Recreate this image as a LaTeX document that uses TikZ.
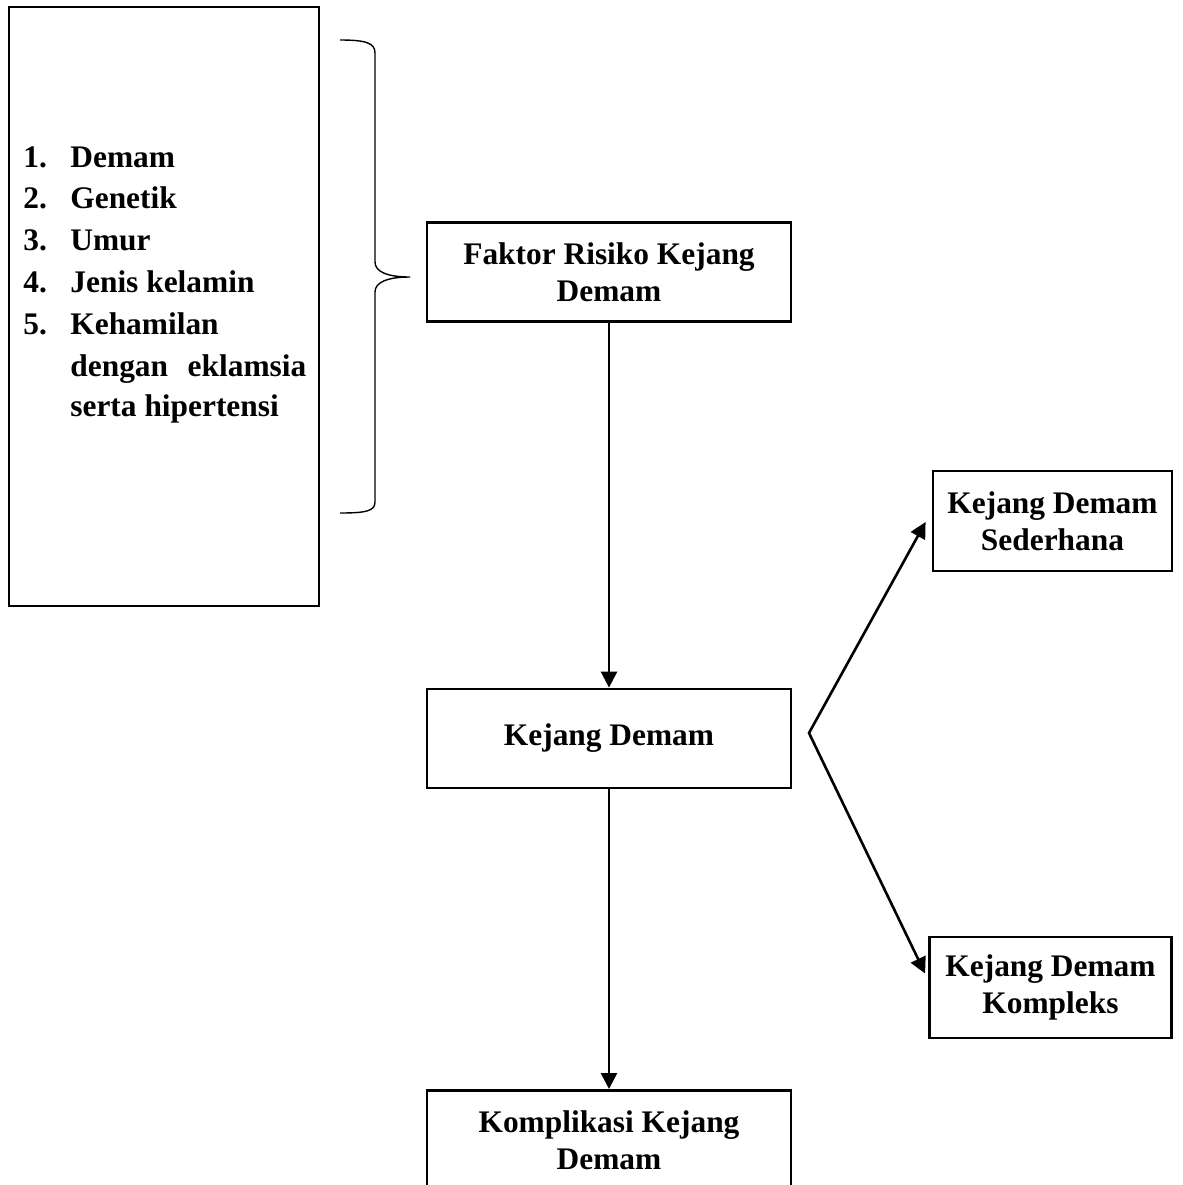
\documentclass[tikz,border=0pt]{standalone}
\usepackage{fontspec}
\setmainfont{Liberation Serif}
\usetikzlibrary{positioning, arrows.meta, calc}

\begin{document}
\begin{tikzpicture}[
                x=0.5pt, y=-0.5pt,
                >={Triangle[length=8pt, width=8pt]},
                box/.style={draw, line width=1.4pt, align=center, inner sep=0pt,
                    font=\fontsize{15.7}{18.5}\selectfont\bfseries},
                arrow/.style={->, line width=1.3pt},
                listnum/.style={anchor=base west, inner sep=0pt, font=\fontsize{15.7}{18.5}\selectfont\bfseries},
                listtxt/.style={listnum},
            ]
                \clip (0,0) rectangle (1183,1185);

                % Draw the box with the list of risk factors
                \node[draw, line width=1.2pt, minimum width=155pt, minimum height=299.5pt] (riskbox) at (164,306.5) {};
                \foreach \n/\txt in {1/Demam, 2/Genetik, 3/Umur, 4/Jenis kelamin, 5/Kehamilan}
                {
                    \node[listnum] (num-\n) at (23,{167+(\n-1)*41.8}) {\n.};
                    \node[listtxt] (item-\n) at (70,{167+(\n-1)*41.8}) {\txt};
                }
                \node[listtxt] (item-5b) at (70,376) {\makebox[118pt][s]{dengan eklamsia}};
                \node[listtxt] (item-5c) at (70,416) {serta hipertensi};

                % Draw the brace
                \draw[line width=0.7pt] (340,40) .. controls (366,40) and (375,43) .. (375,53)
                    -- (375,262) .. controls (375,272) and (388,277) .. (410,277)
                    .. controls (388,277) and (375,282) .. (375,292)
                    -- (375,502) .. controls (375,511) and (366,513) .. (340,513);

                % Draw the main flow
                \node[box, minimum width=182pt, minimum height=49.5pt] (factor) at (609,272) {Faktor Risiko Kejang\\Demam};
                \node[box, minimum width=182pt, minimum height=49.5pt] (kejang) at (609,738.5) {Kejang Demam};
                \node[box, minimum width=182pt, minimum height=49.5pt, anchor=north] (complication) at (609,1089) {Komplikasi Kejang\\Demam};

                % Draw the two types
                \node[box, minimum width=119.5pt, minimum height=50pt] (simple) at (1052.5,521) {Kejang Demam\\Sederhana};
                \node[box, minimum width=121pt, minimum height=50.5pt] (complex) at (1050.5,987.5) {Kejang Demam\\Kompleks};

                % Connect the boxes
                \draw[arrow] (factor) -- (kejang);
                \draw[arrow] (kejang) -- (complication);
                \coordinate (fork) at (809,733);
                \draw[<->, line width=1.3pt, line join=miter] ($(simple.west)+(-6,1)$) -- (fork) -- ($(complex.west)+(-3,-14)$);
            \end{tikzpicture}
\end{document}
